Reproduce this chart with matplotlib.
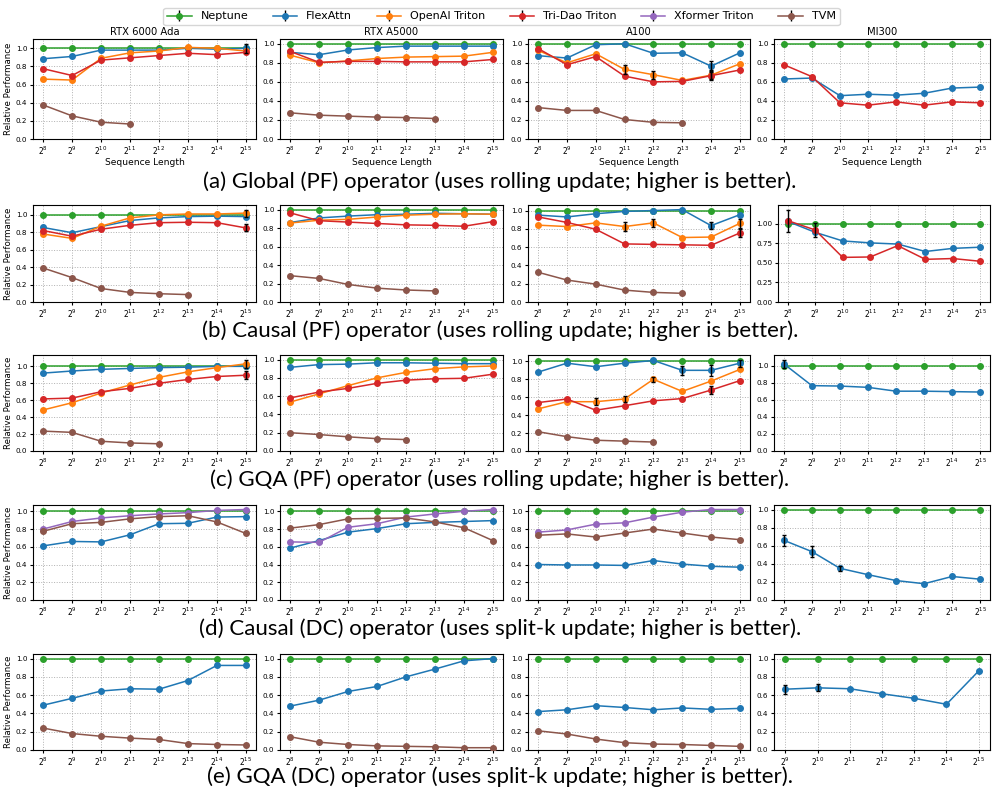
#!/usr/bin/env python3

import numpy as np
import matplotlib
matplotlib.use('Agg')
import matplotlib.pyplot as plt

# sequence length exponents (2^8 .. 2^15)
exps = [8, 9, 10, 11, 12, 13, 14, 15]
exps_e_mi300 = [9, 10, 11, 12, 13, 14, 15]

gpus = ['RTX 6000 Ada', 'RTX A5000', 'A100', 'MI300']
methods = ['Neptune', 'FlexAttn', 'OpenAI Triton', 'Tri-Dao Triton', 'Xformer Triton', 'TVM']
colors = {'Neptune': 'tab:green', 'FlexAttn': 'tab:blue', 'OpenAI Triton': 'tab:orange',
          'Tri-Dao Triton': 'tab:red', 'Xformer Triton': 'tab:purple', 'TVM': 'tab:brown'}

captions = ['(a) Global (PF) operator (uses rolling update; higher is better).',
            '(b) Causal (PF) operator (uses rolling update; higher is better).',
            '(c) GQA (PF) operator (uses rolling update; higher is better).',
            '(d) Causal (DC) operator (uses split-k update; higher is better).',
            '(e) GQA (DC) operator (uses split-k update; higher is better).']

neptune = [1.0, 1.0, 1.0, 1.0, 1.0, 1.0, 1.0, 1.0]

# ---- (a) Global (PF)
a_rtx6000 = {'FlexAttn': [0.885, 0.91, 0.98, 0.98, 0.98, 1.0, 0.99, 1.0],
             'OpenAI Triton': [0.66, 0.65, 0.89, 0.95, 0.97, 1.01, 1.0, 0.97],
             'Tri-Dao Triton': [0.775, 0.70, 0.87, 0.895, 0.92, 0.945, 0.93, 0.955],
             'TVM': [0.375, 0.255, 0.185, 0.165]}
a_rtx6000_err = {'FlexAttn': {7: 0.05}}
a_a5000 = {'FlexAttn': [0.91, 0.885, 0.935, 0.96, 0.975, 0.975, 0.975, 0.975],
           'OpenAI Triton': [0.88, 0.80, 0.82, 0.845, 0.86, 0.865, 0.87, 0.91],
           'Tri-Dao Triton': [0.92, 0.805, 0.815, 0.815, 0.81, 0.81, 0.81, 0.835],
           'TVM': [0.275, 0.25, 0.24, 0.23, 0.225, 0.215]}
a_a5000_err = {}
a_a100 = {'FlexAttn': [0.875, 0.85, 0.99, 1.0, 0.90, 0.905, 0.765, 0.905],
          'OpenAI Triton': [0.93, 0.80, 0.895, 0.73, 0.675, 0.615, 0.67, 0.79],
          'Tri-Dao Triton': [0.95, 0.78, 0.865, 0.66, 0.60, 0.605, 0.665, 0.725],
          'TVM': [0.33, 0.30, 0.30, 0.205, 0.175, 0.17]}
a_a100_err = {'FlexAttn': {6: 0.05}, 'OpenAI Triton': {3: 0.045, 4: 0.04, 6: 0.05},
              'Tri-Dao Triton': {6: 0.04}}
a_mi300 = {'FlexAttn': [0.63, 0.64, 0.455, 0.47, 0.46, 0.48, 0.535, 0.545],
           'Tri-Dao Triton': [0.78, 0.655, 0.38, 0.355, 0.39, 0.355, 0.39, 0.38]}
a_mi300_err = {}

# ---- (b) Causal (PF)
b_rtx6000 = {'FlexAttn': [0.855, 0.795, 0.865, 0.935, 0.965, 0.98, 0.985, 0.98],
             'OpenAI Triton': [0.78, 0.73, 0.87, 0.965, 1.0, 1.01, 1.01, 1.02],
             'Tri-Dao Triton': [0.82, 0.755, 0.835, 0.88, 0.91, 0.915, 0.91, 0.85],
             'TVM': [0.39, 0.28, 0.155, 0.11, 0.095, 0.085]}
b_rtx6000_err = {'OpenAI Triton': {7: 0.04}, 'Tri-Dao Triton': {7: 0.04}}
b_a5000 = {'FlexAttn': [0.86, 0.91, 0.93, 0.945, 0.95, 0.96, 0.955, 0.95],
           'OpenAI Triton': [0.855, 0.885, 0.895, 0.92, 0.94, 0.95, 0.955, 0.95],
           'Tri-Dao Triton': [0.965, 0.88, 0.865, 0.85, 0.835, 0.83, 0.82, 0.87],
           'TVM': [0.285, 0.255, 0.19, 0.15, 0.13, 0.12]}
b_a5000_err = {}
b_a100 = {'FlexAttn': [0.95, 0.93, 0.965, 0.99, 1.0, 1.01, 0.835, 0.955],
          'OpenAI Triton': [0.84, 0.825, 0.865, 0.825, 0.865, 0.705, 0.71, 0.86],
          'Tri-Dao Triton': [0.93, 0.87, 0.795, 0.635, 0.63, 0.625, 0.62, 0.755],
          'TVM': [0.325, 0.24, 0.195, 0.13, 0.105, 0.095]}
b_a100_err = {'FlexAttn': {6: 0.04}, 'OpenAI Triton': {3: 0.05, 4: 0.04, 7: 0.05},
              'Tri-Dao Triton': {7: 0.04}}
b_mi300 = {'FlexAttn': [1.03, 0.89, 0.78, 0.755, 0.74, 0.645, 0.685, 0.70],
           'Tri-Dao Triton': [1.04, 0.92, 0.57, 0.575, 0.72, 0.545, 0.555, 0.52]}
b_mi300_err = {'Tri-Dao Triton': {0: 0.14, 1: 0.09}}

# ---- (c) GQA (PF)
c_rtx6000 = {'FlexAttn': [0.92, 0.945, 0.965, 0.975, 0.985, 0.99, 1.0, 1.0],
             'OpenAI Triton': [0.485, 0.57, 0.685, 0.78, 0.87, 0.935, 0.985, 1.03],
             'Tri-Dao Triton': [0.615, 0.625, 0.70, 0.74, 0.80, 0.845, 0.88, 0.895],
             'TVM': [0.235, 0.22, 0.115, 0.095, 0.085]}
c_rtx6000_err = {'OpenAI Triton': {7: 0.05}, 'Tri-Dao Triton': {7: 0.05}}
c_a5000 = {'FlexAttn': [0.915, 0.945, 0.95, 0.965, 0.965, 0.96, 0.955, 0.955],
           'OpenAI Triton': [0.535, 0.625, 0.715, 0.80, 0.86, 0.90, 0.92, 0.93],
           'Tri-Dao Triton': [0.58, 0.645, 0.685, 0.74, 0.775, 0.79, 0.795, 0.84],
           'TVM': [0.20, 0.18, 0.155, 0.135, 0.125]}
c_a5000_err = {}
c_a100 = {'FlexAttn': [0.88, 0.98, 0.94, 0.98, 1.01, 0.90, 0.90, 0.98],
          'OpenAI Triton': [0.47, 0.55, 0.55, 0.58, 0.80, 0.665, 0.78, 0.91],
          'Tri-Dao Triton': [0.54, 0.58, 0.455, 0.505, 0.56, 0.585, 0.68, 0.785],
          'TVM': [0.215, 0.16, 0.12, 0.11, 0.10]}
c_a100_err = {'FlexAttn': {5: 0.05, 6: 0.06, 7: 0.04},
              'OpenAI Triton': {2: 0.04, 3: 0.03, 4: 0.03},
              'Tri-Dao Triton': {6: 0.04}}
c_mi300 = {'FlexAttn': [1.02, 0.765, 0.76, 0.745, 0.70, 0.70, 0.695, 0.69]}
c_mi300_err = {'FlexAttn': {0: 0.05}}

# ---- (d) Causal (DC)
d_rtx6000 = {'FlexAttn': [0.61, 0.66, 0.655, 0.735, 0.86, 0.865, 0.935, 0.94],
             'Xformer Triton': [0.80, 0.885, 0.925, 0.95, 0.97, 0.985, 1.01, 1.02],
             'TVM': [0.775, 0.86, 0.875, 0.915, 0.94, 0.95, 0.88, 0.75]}
d_rtx6000_err = {}
d_a5000 = {'FlexAttn': [0.585, 0.67, 0.765, 0.805, 0.86, 0.875, 0.885, 0.895],
           'Xformer Triton': [0.655, 0.65, 0.82, 0.86, 0.935, 0.97, 1.0, 1.02],
           'TVM': [0.81, 0.85, 0.915, 0.92, 0.925, 0.88, 0.815, 0.67]}
d_a5000_err = {}
d_a100 = {'FlexAttn': [0.40, 0.395, 0.395, 0.39, 0.445, 0.405, 0.38, 0.37],
          'Xformer Triton': [0.765, 0.79, 0.855, 0.87, 0.935, 0.99, 1.02, 1.02],
          'TVM': [0.73, 0.745, 0.71, 0.755, 0.80, 0.755, 0.71, 0.68]}
d_a100_err = {}
d_mi300 = {'FlexAttn': [0.66, 0.535, 0.35, 0.28, 0.215, 0.18, 0.26, 0.23]}
d_mi300_err = {'FlexAttn': {0: 0.06, 1: 0.065, 2: 0.03}}

# ---- (e) GQA (DC)
e_rtx6000 = {'FlexAttn': [0.49, 0.565, 0.645, 0.67, 0.665, 0.76, 0.925, 0.925],
             'TVM': [0.24, 0.18, 0.15, 0.13, 0.115, 0.07, 0.06, 0.055]}
e_rtx6000_err = {}
e_a5000 = {'FlexAttn': [0.48, 0.545, 0.64, 0.695, 0.80, 0.885, 0.975, 1.0],
           'TVM': [0.145, 0.085, 0.06, 0.045, 0.04, 0.035, 0.025, 0.025]}
e_a5000_err = {}
e_a100 = {'FlexAttn': [0.42, 0.44, 0.485, 0.465, 0.44, 0.46, 0.445, 0.455],
          'TVM': [0.21, 0.175, 0.12, 0.08, 0.065, 0.06, 0.05, 0.04]}
e_a100_err = {}
e_mi300 = {'FlexAttn': [0.665, 0.68, 0.67, 0.615, 0.565, 0.50, 0.865]}
e_mi300_err = {'FlexAttn': {0: 0.05, 1: 0.04}}

rows = [[(a_rtx6000, a_rtx6000_err), (a_a5000, a_a5000_err), (a_a100, a_a100_err), (a_mi300, a_mi300_err)],
        [(b_rtx6000, b_rtx6000_err), (b_a5000, b_a5000_err), (b_a100, b_a100_err), (b_mi300, b_mi300_err)],
        [(c_rtx6000, c_rtx6000_err), (c_a5000, c_a5000_err), (c_a100, c_a100_err), (c_mi300, c_mi300_err)],
        [(d_rtx6000, d_rtx6000_err), (d_a5000, d_a5000_err), (d_a100, d_a100_err), (d_mi300, d_mi300_err)],
        [(e_rtx6000, e_rtx6000_err), (e_a5000, e_a5000_err), (e_a100, e_a100_err), (e_mi300, e_mi300_err)]]

# layout in pixels (figure is 1000 x 797)
W, H = 1000, 797
row_y = [(39, 139), (205, 302), (355, 451), (505, 600), (654, 750)]
col_x = [(33, 256), (280, 503), (528, 750), (774, 990)]
caption_y = [182, 331, 480, 629, 777]

fig = plt.figure(figsize=(W / 100, H / 100), dpi=100)

def draw_panel(ax, panel, errs, x_exp):
    x = np.array([2 ** e for e in x_exp])
    series = {'Neptune': neptune[:len(x)]}
    series.update(panel)
    ymax = 0
    for m in methods:
        if m not in series:
            continue
        y = series[m]
        ax.plot(x[:len(y)], y, color=colors[m], marker='o', markersize=4,
                linewidth=1.1, zorder=3)
        ymax = max(ymax, max(y))
        if m in errs:
            idx = sorted(errs[m].keys())
            ax.errorbar(x[idx], [y[i] for i in idx], yerr=[errs[m][i] for i in idx],
                        fmt='none', ecolor='black', elinewidth=1, capsize=1.5,
                        capthick=1, zorder=4)
            ymax = max(ymax, max(y[i] + errs[m][i] for i in idx))
    ax.set_xscale('log', base=2)
    ax.set_xticks(x)
    ax.set_xticklabels(['$2^{%d}$' % e for e in x_exp])
    ax.minorticks_off()
    ax.set_xlim(x[0] / 2 ** 0.35, x[-1] * 2 ** 0.35)
    ax.set_ylim(0, ymax * 1.05)
    ax.grid(True, linestyle=':', color='#b0b0b0', linewidth=0.7)
    ax.tick_params(axis='y', labelsize=5.2, length=2.5, pad=1.5)
    ax.tick_params(axis='x', labelsize=5.5, length=2.5, pad=1.5)

for r, row in enumerate(rows):
    y0, y1 = row_y[r]
    for c, (panel, errs) in enumerate(row):
        x0, x1 = col_x[c]
        if r == 1 and c == 3:
            x0 = 778
        ax = fig.add_axes([x0 / W, 1 - y1 / H, (x1 - x0) / W, (y1 - y0) / H])
        x_exp = exps_e_mi300 if (r == 4 and c == 3) else exps
        draw_panel(ax, panel, errs, x_exp)
        if r == 0:
            ax.set_title(gpus[c], fontsize=7.2, pad=3)
            ax.set_xlabel('Sequence Length', fontsize=6.6, labelpad=1)
        if c == 0:
            ax.set_ylabel('Relative Performance', fontsize=6.2, labelpad=2)
    fig.text(0.5, 1 - caption_y[r] / H, captions[r], ha='center', va='center',
             fontsize=16, family='Lato')

# legend with errorbar-style handles
hax = fig.add_axes([0, 0, 0.001, 0.001])
hax.set_axis_off()
handles = []
for m in methods:
    h = hax.errorbar([], [], yerr=[], color=colors[m], marker='o', markersize=4,
                     linewidth=1.1, ecolor='black', elinewidth=1, capsize=1.5)
    handles.append(h)
fig.legend(handles, methods, loc='upper center', bbox_to_anchor=(0.5015, 1 - 2 / H),
           ncol=6, fontsize=8, frameon=True, handlelength=2.2, columnspacing=2.2,
           borderpad=0.35, handletextpad=0.8)

fig.savefig('out.png', dpi=100)
